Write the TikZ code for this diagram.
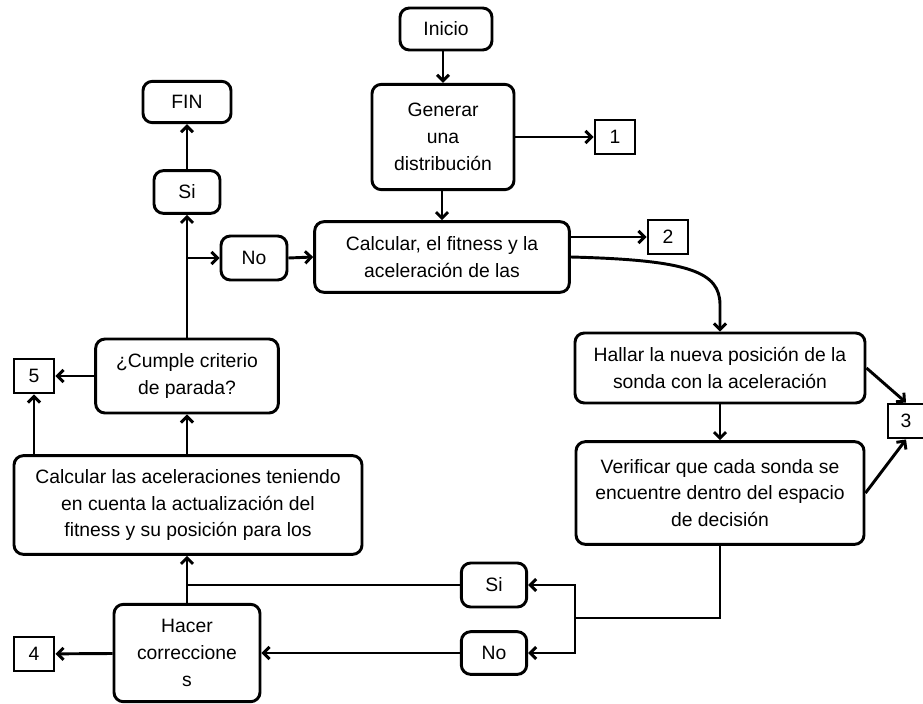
\documentclass[tikz,border=0pt]{standalone}
\usepackage{fontspec}
\setmainfont{Liberation Sans}
\usetikzlibrary{arrows.meta}

\begin{document}
\begin{tikzpicture}[x=0.75pt,y=-0.75pt,
      font=\fontsize{14.5}{20}\selectfont,line width=2.2pt,
      box/.style={draw,rounded corners=7pt,align=center,inner sep=0pt},
      tag/.style={draw,minimum width=30pt,minimum height=25.5pt,inner sep=0pt},
      arr/.style={-{Straight Barb[length=4.5pt,width=9pt]}}]
    \useasboundingbox (0,0) rectangle (923,703);

    % MAIN COLUMN — start, distribution, fitness
    \node[box,minimum width=69pt,minimum height=31.5pt] (inicio) at (446,29) {Inicio};
    \node[box,minimum width=106.5pt,minimum height=79pt] (gen) at (443,137) {Generar\\una\\distribución};
    \node[box,minimum width=191pt,minimum height=53pt] (fit) at (442,257) {Calcular, el fitness y la\\aceleración de las};
    \node[tag] (b1) at (615,137) {1};
    \node[tag] (b2) at (668,237) {2};
    \draw[arr] (inicio.south -| gen) -- (gen);
    \draw[arr] (gen.south -| fit) -- (fit);
    \draw[arr] (gen) -- (b1);
    \draw[arr] (fit.east |- b2.west) -- (b2.west);

    % RIGHT COLUMN — new position and check
    \node[box,minimum width=217.5pt,minimum height=52.5pt] (hallar) at (720,368) {Hallar la nueva posición de la\\sonda con la aceleración};
    \node[box,minimum width=216pt,minimum height=77pt] (verif) at (720,493) {Verificar que cada sonda se\\encuentre dentro del espacio\\de decisión};
    \node[tag,minimum width=27pt] (b3) at (906,421) {3};
    \draw[arr] (fit.east) .. controls (690,260) and (720,272) .. (720,305) -- (hallar.north);
    \draw[arr] (hallar) -- (verif);
    \draw[arr] (hallar.east) -- (b3.north);
    \draw[arr] (verif.east) -- (b3.south);

    % BOTTOM — Si / No split
    \node[box,minimum width=49pt,minimum height=33pt] (sib) at (494,585) {Si};
    \node[box,minimum width=49pt,minimum height=32pt] (nob) at (494,653) {No};
    \coordinate (split) at (575,618);
    \draw (verif.south) |- (split);
    \draw[arr] (split) |- (sib.east);
    \draw[arr] (split) |- (nob.east);

    % LEFT COLUMN — corrections, accelerations, stop test
    \node[box,minimum width=109.5pt,minimum height=73pt] (hacer) at (187,653) {Hacer\\correccione\\s};
    \node[box,minimum width=261pt,minimum height=74pt] (acel) at (188,505) {Calcular las aceleraciones teniendo\\en cuenta la actualización del\\fitness y su posición para los};
    \node[box,minimum width=137pt,minimum height=55.5pt] (cumple) at (187,376) {¿Cumple criterio\\de parada?};
    \node[tag] (b4) at (34,654) {4};
    \node[tag] (b5) at (34,376) {5};
    \draw[arr] (nob) -- (hacer);
    \draw[arr] (hacer) -- (b4);
    \draw (sib.west) -- (sib.west -| hacer.north);
    \draw[arr] (hacer.north) -- (hacer.north |- acel.south);
    \draw[arr] (acel.north -| cumple) -- (cumple.south);
    \draw[arr] (cumple) -- (b5);
    \draw[arr] (b5.south |- acel.north) -- (b5.south);

    % TOP LEFT — end or loop back
    \node[box,minimum width=49.5pt,minimum height=32pt] (sit) at (187,192) {Si};
    \node[box,minimum width=66pt,minimum height=31pt] (fin) at (187,102) {FIN};
    \node[box,minimum width=49.5pt,minimum height=33pt] (not) at (254,258) {No};
    \draw[arr] (cumple.north) -- (sit.south);
    \draw[arr] (sit) -- (fin);
    \draw[arr] (cumple.north |- not.west) -- (not.west);
    \draw[arr] (not.east) -- (fit.west);
  \end{tikzpicture}
\end{document}
